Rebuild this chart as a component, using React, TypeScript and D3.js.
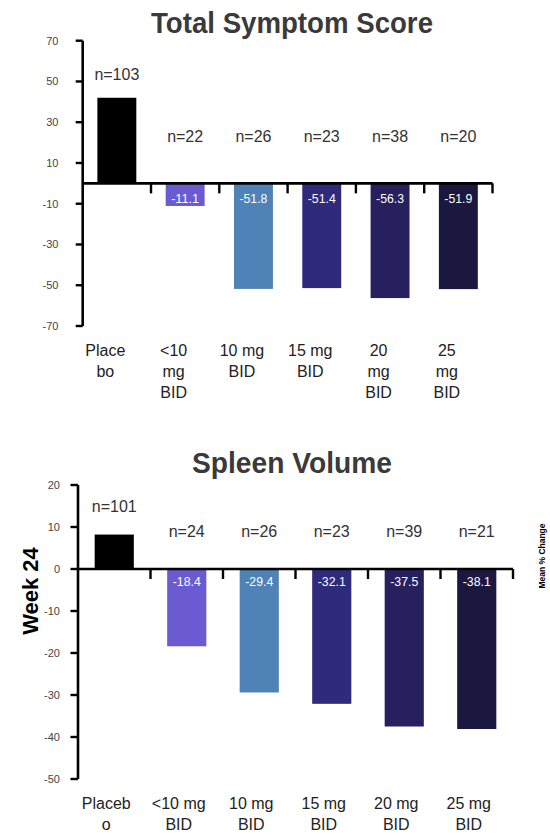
import React from "react";
import * as d3 from "d3";

const groups = ["Placebo", "<10 mg BID", "10 mg BID", "15 mg BID", "20 mg BID", "25 mg BID"];
const colors = ["#000000", "#6a5bd2", "#4f82b6", "#2f2a7c", "#26205f", "#1b1840"];

const tssValues = [42, -11.1, -51.8, -51.4, -56.3, -51.9];
const tssN = [103, 22, 26, 23, 38, 20];
const tssTicks = [70, 50, 30, 10, -10, -30, -50, -70];
const tssLabels = [["Place", "bo"], ["<10", "mg", "BID"], ["10 mg", "BID"], ["15 mg", "BID"], ["20", "mg", "BID"], ["25", "mg", "BID"]];

const svValues = [8.2, -18.4, -29.4, -32.1, -37.5, -38.1];
const svN = [101, 24, 26, 23, 39, 21];
const svTicks = [20, 10, 0, -10, -20, -30, -40, -50];
const svLabels = [["Placeb", "o"], ["<10 mg", "BID"], ["10 mg", "BID"], ["15 mg", "BID"], ["20 mg", "BID"], ["25 mg", "BID"]];

const FONT = "'Liberation Sans', Arial, sans-serif";

type PanelProps = {
  title: string;
  titleY: number;
  titleLen: number;
  values: number[];
  ns: number[];
  ticks: number[];
  labels: string[][];
  xRange: [number, number];
  yDomain: [number, number];
  yRange: [number, number];
  pad: number;
  nFirstY: number;
  nOtherY: number;
  valueDy: number;
  labelY: number;
  labelOffset: number;
  tickLabelX: number;
  tickLen: number;
};

function Panel(p: PanelProps) {
  const x = d3.scaleBand<string>().domain(groups).range(p.xRange).paddingInner(p.pad).paddingOuter(p.pad / 2);
  const y = d3.scaleLinear().domain(p.yDomain).range(p.yRange);
  const y0 = y(0);
  const step = x.step();
  const axisX = p.xRange[0];
  return (
    <g>
      <text x={292} y={p.titleY} textAnchor="middle" fontFamily={FONT} fontWeight="bold" fontSize={29}
        fill="#3a3a3a" textLength={p.titleLen} lengthAdjust="spacingAndGlyphs">{p.title}</text>
      {groups.map((g, i) => {
        const v = p.values[i];
        const bx = x(g)!;
        const top = v >= 0 ? y(v) : y0;
        const h = Math.abs(y(v) - y0);
        return (
          <g key={g}>
            <rect x={bx} y={top} width={x.bandwidth()} height={h} fill={colors[i]} />
            {v < 0 && (
              <text x={bx + x.bandwidth() / 2} y={y0 + p.valueDy} textAnchor="middle" fontFamily={FONT}
                fontSize={13} fill="#ffffff" textLength={28} lengthAdjust="spacingAndGlyphs">{v.toFixed(1)}</text>
            )}
            <text x={bx + x.bandwidth() / 2} y={i === 0 ? p.nFirstY : p.nOtherY} textAnchor="middle"
              fontFamily={FONT} fontSize={16} fill="#333">{"n=" + p.ns[i]}</text>
            <text textAnchor="middle" fontFamily={FONT} fontSize={16} fill="#222">
              {p.labels[i].map((ln, k) => (
                <tspan key={k} x={bx + x.bandwidth() / 2 + p.labelOffset} y={p.labelY + k * 21}>{ln}</tspan>
              ))}
            </text>
          </g>
        );
      })}
      {/* y axis */}
      <line x1={axisX} x2={axisX} y1={y(p.yDomain[1])} y2={y(p.yDomain[0])} stroke="#000" strokeWidth={2.6} />
      {p.ticks.map((t) => (
        <g key={t}>
          <line x1={axisX - p.tickLen} x2={axisX} y1={y(t)} y2={y(t)} stroke="#000" strokeWidth={2.4} />
          <text x={p.tickLabelX} y={y(t)} dy="0.35em" textAnchor="end" fontFamily={FONT} fontSize={11} fill="#444">{t}</text>
        </g>
      ))}
      {/* zero axis */}
      <line x1={axisX} x2={p.xRange[1]} y1={y0} y2={y0} stroke="#000" strokeWidth={2.6} />
      {groups.map((g, i) => (
        <line key={"t" + i} x1={axisX + step * (i + 1)} x2={axisX + step * (i + 1)} y1={y0} y2={y0 + 10}
          stroke="#000" strokeWidth={2.4} />
      ))}
    </g>
  );
}

export default function App() {
  return (
    <svg width={550} height={835} style={{ position: "absolute", left: 0, top: 0, background: "#fff" }}>
      <rect width={550} height={835} fill="#fff" />
      <Panel title="Total Symptom Score" titleY={33} titleLen={282} values={tssValues} ns={tssN}
        ticks={tssTicks} labels={tssLabels} xRange={[82.7, 492.5]} yDomain={[-70, 70]} yRange={[326, 40.7]}
        pad={0.43} nFirstY={80} nOtherY={142} valueDy={20} labelY={356} labelOffset={-11.5}
        tickLabelX={58.5} tickLen={7} />
      <Panel title="Spleen Volume" titleY={473} titleLen={200} values={svValues} ns={svN}
        ticks={svTicks} labels={svLabels} xRange={[78, 513]} yDomain={[-50, 20]} yRange={[779, 485]}
        pad={0.46} nFirstY={512} nOtherY={537} valueDy={17} labelY={809} labelOffset={-8}
        tickLabelX={60} tickLen={7.5} />
      <text transform="translate(37.5,591) rotate(-90)" textAnchor="middle" fontFamily={FONT}
        fontWeight="bold" fontSize={22} fill="#000">Week 24</text>
      <text transform="translate(545,556) rotate(-90)" textAnchor="middle" fontFamily={FONT}
        fontWeight="bold" fontSize={9} fill="#000" textLength={65} lengthAdjust="spacingAndGlyphs">Mean % Change</text>
    </svg>
  );
}
